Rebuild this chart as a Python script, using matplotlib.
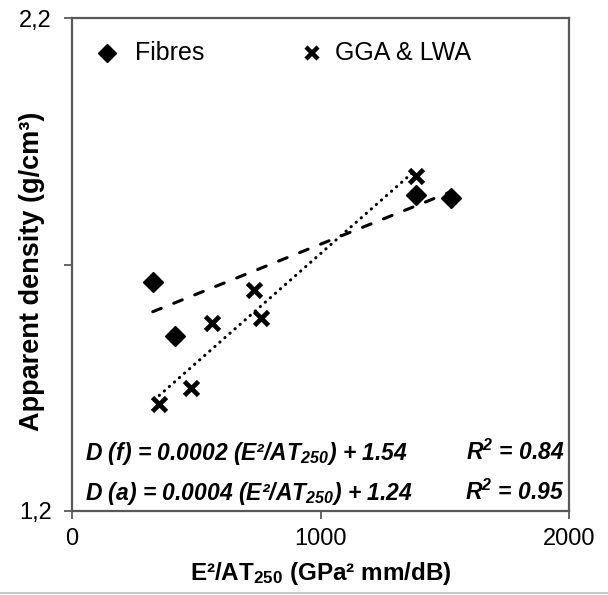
import numpy as np
import matplotlib.pyplot as plt
from matplotlib.lines import Line2D

plt.rcParams['font.family'] = ['Liberation Sans', 'DejaVu Sans']
plt.rcParams['mathtext.fontset'] = 'custom'
plt.rcParams['mathtext.rm'] = 'Liberation Sans'
plt.rcParams['mathtext.it'] = 'Liberation Sans:italic'
plt.rcParams['mathtext.bf'] = 'Liberation Sans:bold'
plt.rcParams['mathtext.bfit'] = 'Liberation Sans:bold:italic'

# E2/AT250 (GPa2 mm/dB) and apparent density (g/cm3)
fibres_x = [325, 414, 1384, 1524]
fibres_y = [1.665, 1.554, 1.840, 1.834]
agg_x = [351, 478, 565, 734, 759, 1384]
agg_y = [1.417, 1.449, 1.581, 1.648, 1.591, 1.880]

x_ticks = [0, 1000, 2000]
y_ticks = [1.2, 1.7, 2.2]
y_tick_labels = ['1,2', '', '2,2']

eq_f = r'D (f) = 0.0002 (E²/AT$_{\mathbfit{250}}$) + 1.54'
eq_a = r'D (a) = 0.0004 (E²/AT$_{\mathbfit{250}}$) + 1.24'
r2_f = r'R$^{\mathbfit{2}}$ = 0.84'
r2_a = r'R$^{\mathbfit{2}}$ = 0.95'

axis_grey = '#595959'

fig = plt.figure(figsize=(6.08, 5.95), dpi=100)
ax = fig.add_axes([0.1184, 0.1412, 0.8175, 0.8285])

# linear trend lines over each series' range
for xs, ys, ls in [(fibres_x, fibres_y, (0, (3.0, 4.4))), (agg_x, agg_y, (0, (0.1, 2.1)))]:
    k, b = np.polyfit(xs, ys, 1)
    xx = np.array([min(xs), max(xs)])
    ax.plot(xx, k * xx + b, color='black', lw=2.2, linestyle=ls,
            dash_capstyle='round', solid_capstyle='round', zorder=2)

ax.plot(fibres_x, fibres_y, linestyle='none', marker='D', ms=10,
        color='black', zorder=3)
ax.plot(agg_x, agg_y, linestyle='none', marker='x', ms=10, mew=3.4,
        color='black', zorder=3)

ax.set_xlim(0, 2000)
ax.set_ylim(1.2, 2.2)
ax.set_xticks(x_ticks)
ax.set_yticks(y_ticks)
ax.set_yticklabels(y_tick_labels)
ax.tick_params(direction='out', length=6, width=1.3, color=axis_grey,
               labelsize=17, labelcolor='black')
ax.tick_params(axis='x', pad=6)
ax.tick_params(axis='y', pad=8.5)
for sp in ax.spines.values():
    sp.set_color(axis_grey)
    sp.set_linewidth(1.6)

ax.set_xlabel(r'E²/AT$_{\mathbf{250}}$ (GPa² mm/dB)', fontsize=17.5,
              fontweight='bold', va='center')
ax.xaxis.set_label_coords(0.5, -0.126)
ax.set_ylabel('Apparent density (g/cm³)', fontsize=19.5, fontweight='bold',
              va='center')
ax.yaxis.set_label_coords(-0.081, 0.486)

# legend entries placed by hand in axes coordinates
leg_y = 0.929
ax.plot([0.0704], [leg_y], transform=ax.transAxes, linestyle='none',
        marker='D', ms=9, color='black', clip_on=False)
ax.text(0.1268, leg_y, 'Fibres', transform=ax.transAxes, fontsize=18,
        va='center', ha='left')
ax.plot([0.483], [leg_y], transform=ax.transAxes, linestyle='none',
        marker='x', ms=8, mew=3.2, color='black', clip_on=False)
ax.text(0.529, leg_y, 'GGA & LWA', transform=ax.transAxes, fontsize=18,
        va='center', ha='left')

eq_kw = dict(transform=ax.transAxes, fontsize=16.5, fontweight='bold',
             style='italic', va='baseline')
ax.text(0.026, 0.1034, eq_f, ha='left', **eq_kw)
ax.text(0.026, 0.0223, eq_a, ha='left', **eq_kw)
ax.text(0.99, 0.1034, r2_f, ha='right', **eq_kw)
ax.text(0.99, 0.0223, r2_a, ha='right', **eq_kw)

fig.add_artist(Line2D([0, 1], [0.004, 0.004], color='#c8c8c8', lw=1.5,
                      transform=fig.transFigure))

fig.savefig('out.png', dpi=100)
